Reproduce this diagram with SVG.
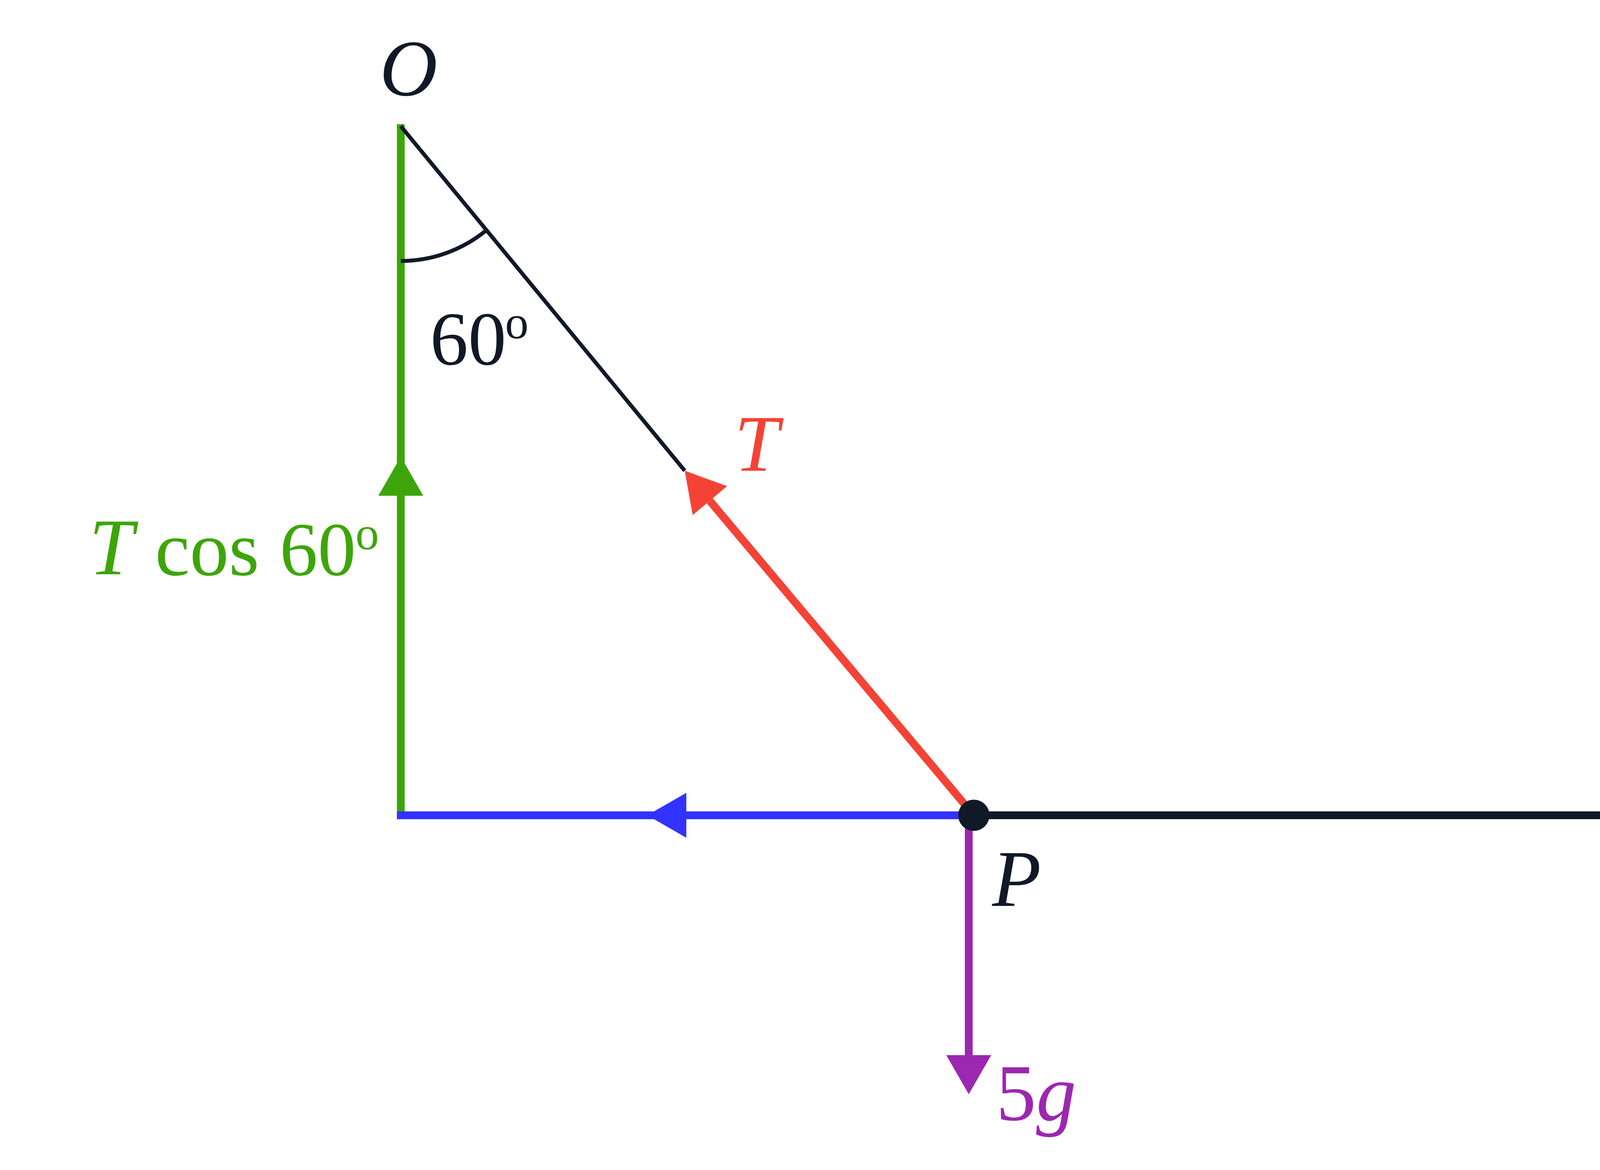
<svg xmlns="http://www.w3.org/2000/svg" width="5200" height="2995" viewBox="0 0 5200 2995">
<style>
.m{font-family:"Liberation Serif","DejaVu Serif",serif;}
.i{font-style:italic;}
.k{fill:#111827;}
.g{fill:#3da50a;}
.r{fill:#f44336;}
.p{fill:#9c27b0;}
.s{font-family:"DejaVu Sans","Liberation Sans",sans-serif;}
</style>
<rect width="5200" height="2995" fill="#ffffff"/>
<g id="connectors" fill="none">
  <line x1="1026" y1="318" x2="1026" y2="2097" stroke="#3da50a" stroke-width="20"/>
  <polygon points="1026,1169 968.5,1269 1083.5,1269" fill="#3da50a"/>
  <line x1="1016" y1="2087" x2="2493" y2="2087" stroke="#3333ff" stroke-width="20"/>
  <polygon points="1657,2087 1757,2029.5 1757,2144.5" fill="#3333ff"/>
  <line x1="1026" y1="323" x2="1753" y2="1205" stroke="#111827" stroke-width="10"/>
  <path d="M1026 668 A345 345 0 0 0 1245.4 589.2" stroke="#111827" stroke-width="10"/>
  <line x1="2493" y1="2087" x2="1817" y2="1282" stroke="#f44336" stroke-width="20"/>
  <polygon points="1753,1205 1773.2,1318.6 1861.3,1244.6" fill="#f44336"/>
  <line x1="2493" y1="2087" x2="4160" y2="2087" stroke="#111827" stroke-width="20"/>
  <polygon points="4253,2087 4153,2029.5 4153,2144.5" fill="#111827"/>
  <line x1="2480" y1="2087" x2="2480" y2="2705" stroke="#9c27b0" stroke-width="20"/>
  <polygon points="2480,2801 2422.5,2701 2537.5,2701" fill="#9c27b0"/>
</g>
<g id="node-P">
  <circle cx="2493" cy="2087" r="40" fill="#111827"/>
  <text class="m i k" x="2540" y="2319" font-size="205">P</text>
</g>
<g id="node-O">
  <text class="m i k" x="972" y="244" font-size="205">O</text>
</g>
<g id="label-angle">
  <text class="m k" x="1101" y="933" font-size="195">60</text>
  <text class="m k" x="1293" y="866" font-size="120">o</text>
</g>
<g id="label-T">
  <text class="m i r" x="1880" y="1205" font-size="205">T</text>
</g>
<g id="label-Tcos">
  <text class="m i g" x="228" y="1470" font-size="205">T</text>
  <text class="m g" x="397" y="1472" font-size="200">cos</text>
  <text class="m g" x="716" y="1472" font-size="195">60</text>
  <text class="m g" x="910" y="1406" font-size="120">o</text>
</g>
<g id="label-F">
  <text class="m i k" x="4305" y="2159" font-size="205">F</text>
  <text class="s k" x="4462" y="2159" font-size="200">N</text>
</g>
<g id="label-5g">
  <text class="m p" x="2550" y="2867" font-size="205">5<tspan font-style="italic">g</tspan></text>
</g>
</svg>
